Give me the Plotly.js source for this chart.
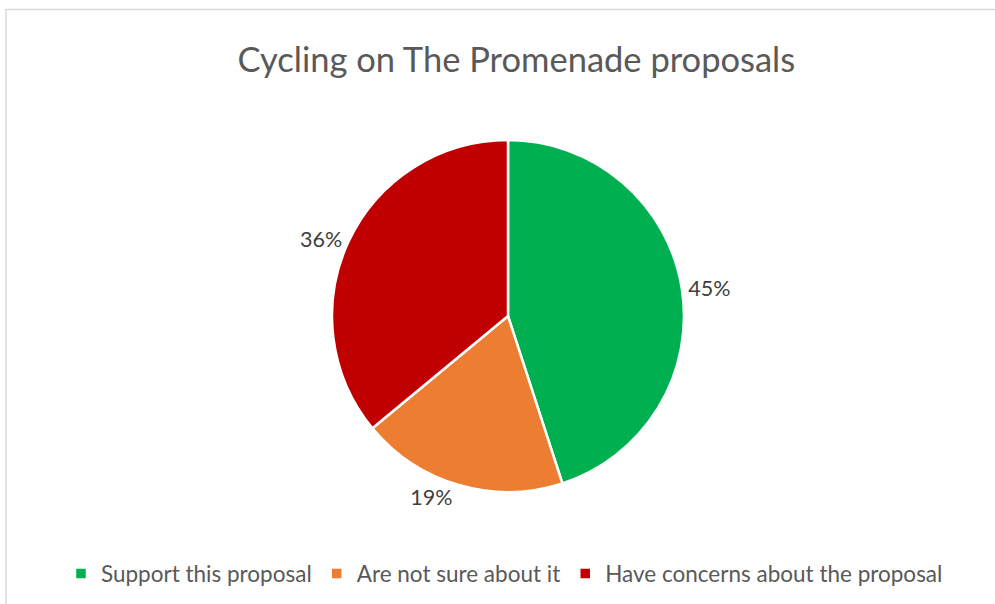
<!DOCTYPE html>
<html>
<head>
<meta charset="utf-8">
<script src="https://cdn.plot.ly/plotly-3.0.1.min.js"></script>
<style>
  html, body { margin: 0; padding: 0; background: #fff; }
  #chart { width: 995px; height: 604px; }
</style>
</head>
<body>
<div id="chart"></div>
<script>
// survey answers, in the order they are drawn (clockwise from 12 o'clock)
const labels = ['Support this proposal', 'Are not sure about it', 'Have concerns about the proposal'];
const shares = [45, 19, 36];
const colors = ['#00B050', '#ED7D31', '#C00000'];

const trace = {
  type: 'pie',
  labels: labels,
  values: shares,
  sort: false,
  direction: 'clockwise',
  rotation: 0,
  marker: { colors: colors, line: { color: '#ffffff', width: 2.5 } },
  textinfo: 'percent',
  texttemplate: '%{percent:.0%}',
  textposition: 'outside',
  outsidetextfont: { family: 'Lato, sans-serif', size: 21.5, color: '#404040' },
  hoverinfo: 'label+percent',
  domain: { x: [0.3337, 0.6874], y: [0.1854, 0.7682] }
};

const layout = {
  width: 995,
  height: 604,
  margin: { l: 0, r: 0, t: 0, b: 0 },
  paper_bgcolor: '#ffffff',
  showlegend: true,
  title: {
    text: 'Cycling on The Promenade proposals',
    font: { family: 'Lato, sans-serif', size: 34.5, color: '#595959' },
    x: 0.519, xanchor: 'center',
    y: 0.9, yanchor: 'middle'
  },
  legend: {
    orientation: 'h',
    x: 0.507, xanchor: 'center',
    y: 0.05, yanchor: 'middle',
    font: { family: 'Lato, sans-serif', size: 22.5, color: '#595959' },
    itemwidth: 30,
    traceorder: 'normal'
  },
  // thin grey frame of the chart area
  shapes: [{
    type: 'rect', xref: 'paper', yref: 'paper',
    x0: 6 / 995, x1: 1.01, y0: -0.01, y1: 1 - 9.5 / 604,
    line: { color: '#D9D9D9', width: 1.5 }
  }]
};

Plotly.newPlot('chart', [trace], layout, { displayModeBar: false, staticPlot: true });
</script>
</body>
</html>
